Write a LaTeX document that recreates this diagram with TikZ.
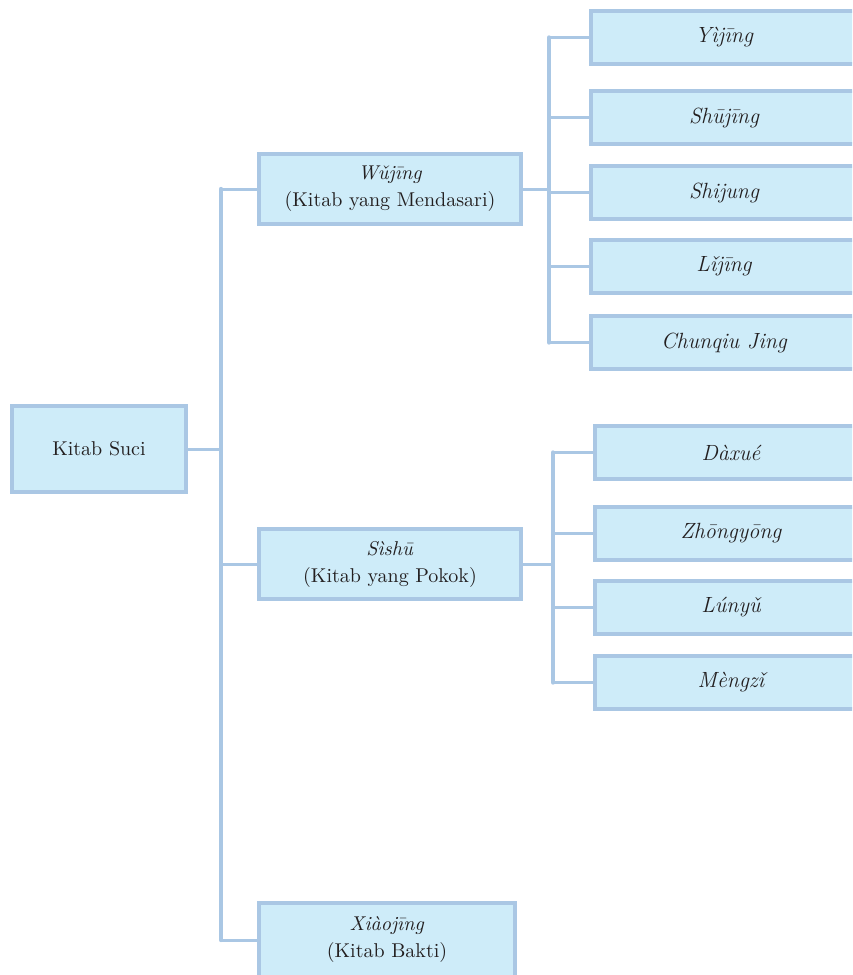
\documentclass[tikz,border=0pt]{standalone}
\usepackage{tikz}
\definecolor{boxline}{RGB}{170,199,228}
\definecolor{boxfill}{RGB}{206,236,249}
\definecolor{ink}{RGB}{35,31,32}
\begin{document}
\begin{tikzpicture}[x=0.5pt,y=-0.5pt,
  box/.style={draw=boxline, fill=boxfill, line width=2pt, inner sep=0pt,
    align=center, text=ink, font=\fontsize{10}{13.5}\selectfont},
  midbox/.style={box, minimum width=131pt, minimum height=35pt},
  leafA/.style={box, minimum width=133pt, minimum height=26.5pt, font=\fontsize{11}{13.5}\selectfont\itshape},
  leafB/.style={box, minimum width=136pt, minimum height=26.5pt, font=\fontsize{11}{13.5}\selectfont\itshape},
  link/.style={draw=boxline, line width=1.5pt, line cap=round},
  trunkline/.style={draw=boxline, line width=2.2pt, line cap=round}]
\useasboundingbox (0,0) rectangle (852,975);
\clip (0,0) rectangle (852,975);

% root
\node[box, minimum width=87pt, minimum height=43pt] (suci) at (99,449) {Kitab Suci};

% second level
\node[midbox] (wujing) at (390,189) {\textit{Wǔjīng}\\(Kitab yang Mendasari)};
\node[midbox] (sishu) at (390,564) {\textit{Sìshū}\\(Kitab yang Pokok)};
\node[box, minimum width=128pt, minimum height=37pt] (xiao) at (387,940) {\textit{Xiàojīng}\\(Kitab Bakti)};

% the five classics
\node[leafA] (yijing) at (724,37.5) {Yìjīng};
\node[leafA] (shujing) at (724,117.5) {Shūjīng};
\node[leafA] (shijung) at (724,192.5) {Shijung};
\node[leafA] (lijing) at (724,266.5) {Lǐjīng};
\node[leafA] (chunqiu) at (724,342.5) {Chunqiu Jing};

% the four books
\node[leafB] (daxue) at (731,452.5) {Dàxué};
\node[leafB] (zhongyong) at (731,533.5) {Zhōngyōng};
\node[leafB] (lunyu) at (731,607.5) {Lúnyǔ};
\node[leafB] (mengzi) at (731,682.5) {Mèngzǐ};

% bus positions
\coordinate (trunk) at (221,0);
\coordinate (busA) at (549,0);
\coordinate (busB) at (553,0);

% root to second level
\draw[link] (suci.east) -- (suci.east -| trunk);
\draw[trunkline] (trunk |- wujing.west) -- (trunk |- xiao.west);
\foreach \n in {wujing,sishu,xiao}
  \draw[link] (trunk |- \n.west) -- (\n.west);

% Wujing to the five classics
\draw[link] (wujing.east) -- (wujing.east -| busA);
\draw[trunkline] (busA |- yijing.west) -- (busA |- chunqiu.west);
\foreach \n in {yijing,shujing,shijung,lijing,chunqiu}
  \draw[link] (busA |- \n.west) -- (\n.west);

% Sishu to the four books
\draw[link] (sishu.east) -- (sishu.east -| busB);
\draw[trunkline] (busB |- daxue.west) -- (busB |- mengzi.west);
\foreach \n in {daxue,zhongyong,lunyu,mengzi}
  \draw[link] (busB |- \n.west) -- (\n.west);
\end{tikzpicture}
\end{document}
